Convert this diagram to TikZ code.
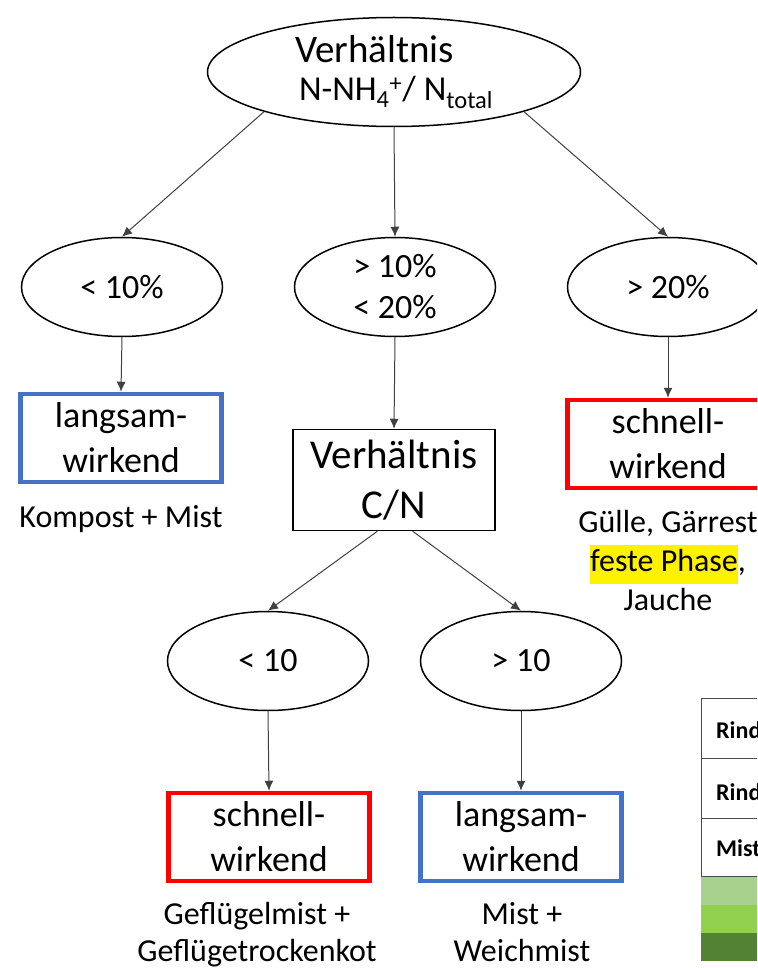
\documentclass[tikz,border=0pt]{standalone}
\usepackage{fontspec}
\setmainfont{Carlito}
\usepackage{xcolor}
\usetikzlibrary{shapes.geometric,arrows.meta,positioning}
\definecolor{blue}{RGB}{68, 114, 196}
\definecolor{red}{RGB}{255, 0, 0}
\definecolor{lightgreen}{RGB}{169, 209, 142}
\definecolor{midgreen}{RGB}{146, 208, 80}
\definecolor{darkgreen}{RGB}{84, 130, 53}
\tikzstyle{cond} = [ellipse, draw=black, line width=1.5pt, inner sep=0pt, minimum width=201pt, minimum height=99pt, align=center, font=\fontsize{34}{41}\selectfont]
\tikzstyle{slow} = [rectangle, draw=blue, line width=4.5pt, inner sep=0pt, minimum width=201pt, minimum height=88pt, align=center, font=\fontsize{36}{45}\selectfont]
\tikzstyle{fast} = [slow, draw=red]
\tikzstyle{ratio} = [rectangle, draw=black, line width=1.5pt, inner sep=0pt, minimum width=202pt, minimum height=101pt, align=center, font=\fontsize{41}{50}\selectfont]
\tikzstyle{textonly} = [draw=none, fill=none, inner sep=0pt, align=center, font=\fontsize{32}{38}\selectfont]
\tikzstyle{cell} = [draw=none, inner sep=0pt, anchor=base west, font=\bfseries\fontsize{24}{28}\selectfont]
\tikzstyle{tedge}  = [draw, line width=1pt, draw=black!75, -{Latex[length=10pt,width=9pt]}]

\begin{document}
\begin{tikzpicture}[x=1pt, y=-1pt]
\useasboundingbox (0,0) rectangle (757,968);
\clip (0,0) rectangle (757,968);

% first level =============================

\node[cond, minimum width=373pt, minimum height=109pt, align=left, font=\fontsize{39}{38}\selectfont] (top) at (394,72)
  {Verhältnis\\{\fontsize{35}{38}\selectfont \hspace*{4pt}N-NH\textsubscript{4}\textsuperscript{+}/ N\textsubscript{total}}};

\node[cond] (lt) at (122,287) {< 10\%};
\node[cond] (md) at (395,287) {> 10\%\\< 20\%};
\node[cond] (rt) at (668,287) {> 20\%};

% edges from the top
\path[tedge] (top.197) -- (lt.north);
\path[tedge] (top.south) -- (md.north);
\path[tedge] (top.-17) -- (rt.north);

% results on the left and right
\node[slow] (lw) at (121,438) {langsam-\\wirkend};
\node[textonly, anchor=base] (lwtxt) at (121,527) {Kompost + Mist};

\node[fast] (rs) at (668,444) {schnell-\\wirkend};
\node[textonly, font=\fontsize{32}{39}\selectfont] (rstxt) at (668,561)
  {Gülle, Gärrest\\{\setlength{\fboxsep}{0pt}\colorbox{yellow}{\strut feste Phase}},\\Jauche};

\path[tedge] (lt.south) -- (lw.north);
\path[tedge] (rt.south) -- (rs.north);

% second ratio ============================

\node[ratio] (cn) at (394,480) {Verhältnis\\C/N};
\path[tedge] (md.south) -- (cn.north);

\node[cond] (lo) at (268,661) {< 10};
\node[cond] (hi) at (521,661) {> 10};

\path[tedge] (cn.-108) -- (lo.north);
\path[tedge] (cn.-70) -- (hi.north);

\node[fast] (ls) at (269,837) {schnell-\\wirkend};
\node[slow] (hs) at (521,837) {langsam-\\wirkend};

\path[tedge] (lo.south) -- (ls.north);
\path[tedge] (hi.south) -- (hs.north);

\node[textonly, font=\fontsize{32}{37}\selectfont] (lstxt) at (257,935) {Geflügelmist +\\Geflügetrockenkot};
\node[textonly, font=\fontsize{32}{37}\selectfont] (hstxt) at (522,932) {Mist +\\Weichmist};

% table on the right ======================

\fill[lightgreen] (701,876) rectangle (800,905);
\fill[midgreen] (701,905) rectangle (800,933);
\fill[darkgreen] (701,933) rectangle (800,961);
\draw[black!70, line width=1pt] (800,698) -- (701,698) -- (701,876) -- (800,876);
\foreach \y in {758,818} \draw[black!70, line width=1pt] (701,\y) -- (800,\y);

\node[cell] (r1) at (716,738) {Rind};
\node[cell] (r2) at (716,800) {Rind};
\node[cell] (r3) at (716,856) {Mist};

\end{tikzpicture}
\end{document}
